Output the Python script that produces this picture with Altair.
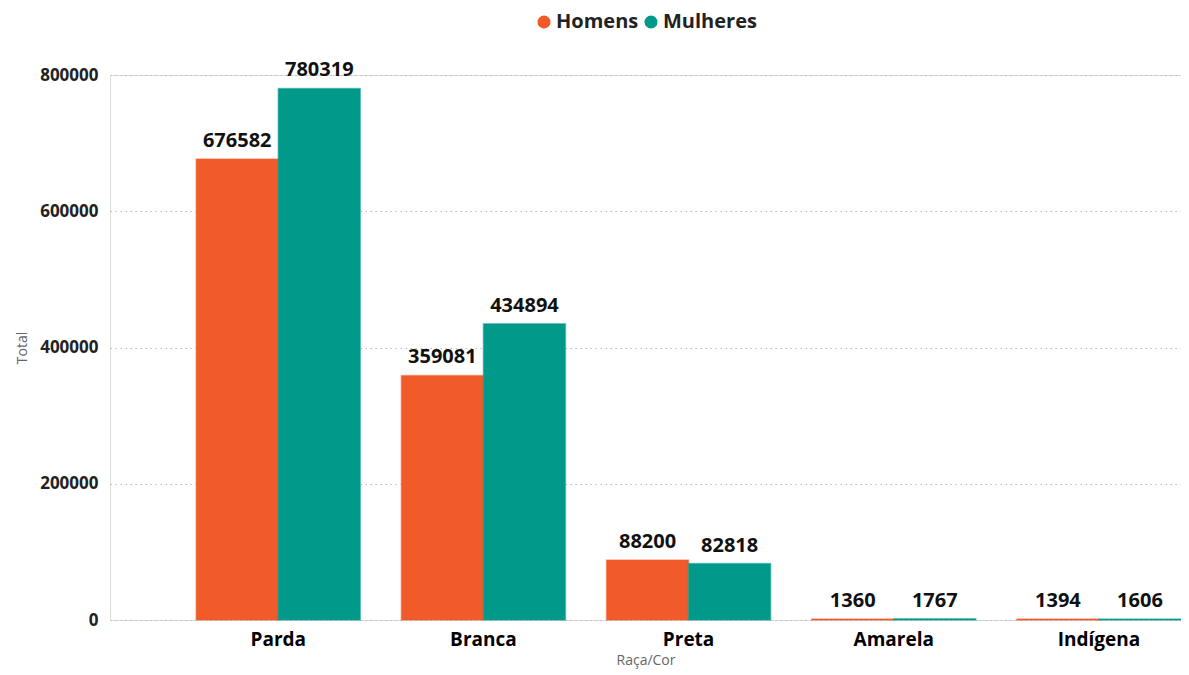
import altair as alt
import pandas as pd

categorias = ["Parda", "Branca", "Preta", "Amarela", "Indígena"]
homens = [676582, 359081, 88200, 1360, 1394]
mulheres = [780319, 434894, 82818, 1767, 1606]
series = ["Homens", "Mulheres"]
cores = ["#F15A29", "#01998A"]

rows = []
for c, h, m in zip(categorias, homens, mulheres):
    rows.append({"Raça/Cor": c, "Sexo": "Homens", "Total": h})
    rows.append({"Raça/Cor": c, "Sexo": "Mulheres", "Total": m})
df = pd.DataFrame(rows)

FONT = "Open Sans"

x = alt.X(
    "Raça/Cor:N",
    sort=categorias,
    scale=alt.Scale(paddingInner=0.2, paddingOuter=0.21, align=1),
    axis=alt.Axis(
        title="Raça/Cor", labelAngle=0, labelFontSize=19, labelFontWeight="bold",
        labelColor="#000000", labelFont=FONT, labelPadding=10, ticks=False, domain=False,
        titleFontSize=14, titleFontWeight="normal", titleColor="#666666", titleFont=FONT,
        titlePadding=4,
    ),
)
xoff = alt.XOffset("Sexo:N", sort=series, scale=alt.Scale(paddingInner=0, paddingOuter=0))
y = alt.Y(
    "Total:Q",
    scale=alt.Scale(domain=[0, 800000], nice=False),
    axis=alt.Axis(
        title="Total", values=[0, 200000, 400000, 600000, 800000], format="d",
        labelFontSize=17, labelFontWeight="bold", labelColor="#222222", labelFont=FONT,
        labelPadding=12, ticks=False, domain=False,
        grid=True, gridDash=[1.5, 3.5], gridColor="#BBBBBB", gridWidth=1.2,
        titleFontSize=14, titleFontWeight="normal", titleColor="#666666", titleFont=FONT,
        titlePadding=10,
    ),
)
color = alt.Color(
    "Sexo:N", sort=series,
    scale=alt.Scale(domain=series, range=cores),
    legend=alt.Legend(
        title=None, orient="none", direction="horizontal", legendX=424, legendY=-63,
        symbolType="circle", symbolSize=170, symbolStrokeWidth=0,
        labelFontSize=20, labelFontWeight="bold", labelFont=FONT, labelColor="#222222",
        columnPadding=2, labelOffset=2,
    ),
)

base = alt.Chart(df)
bars = base.mark_bar(strokeWidth=1.5, strokeOpacity=0.45).encode(
    x=x, xOffset=xoff, y=y, color=color,
    stroke=alt.Stroke("Sexo:N", sort=series, scale=alt.Scale(domain=series, range=cores), legend=None),
)
labels = base.mark_text(
    baseline="alphabetic", dy=-12, fontSize=20, fontWeight="bold", font=FONT, color="#111111"
).encode(x=x, xOffset=xoff, y=y, text=alt.Text("Total:Q", format="d"))

chart = (
    alt.layer(bars, labels)
    .properties(
        width=1071, height=545,
        autosize=alt.AutoSizeParams(type="none"),
        padding={"left": 102, "top": 67, "right": 0, "bottom": 54},
    )
    .configure_view(stroke=None)
    .configure(background="white")
)

chart.save("out.html", embed_options={"renderer": "svg", "actions": False})
